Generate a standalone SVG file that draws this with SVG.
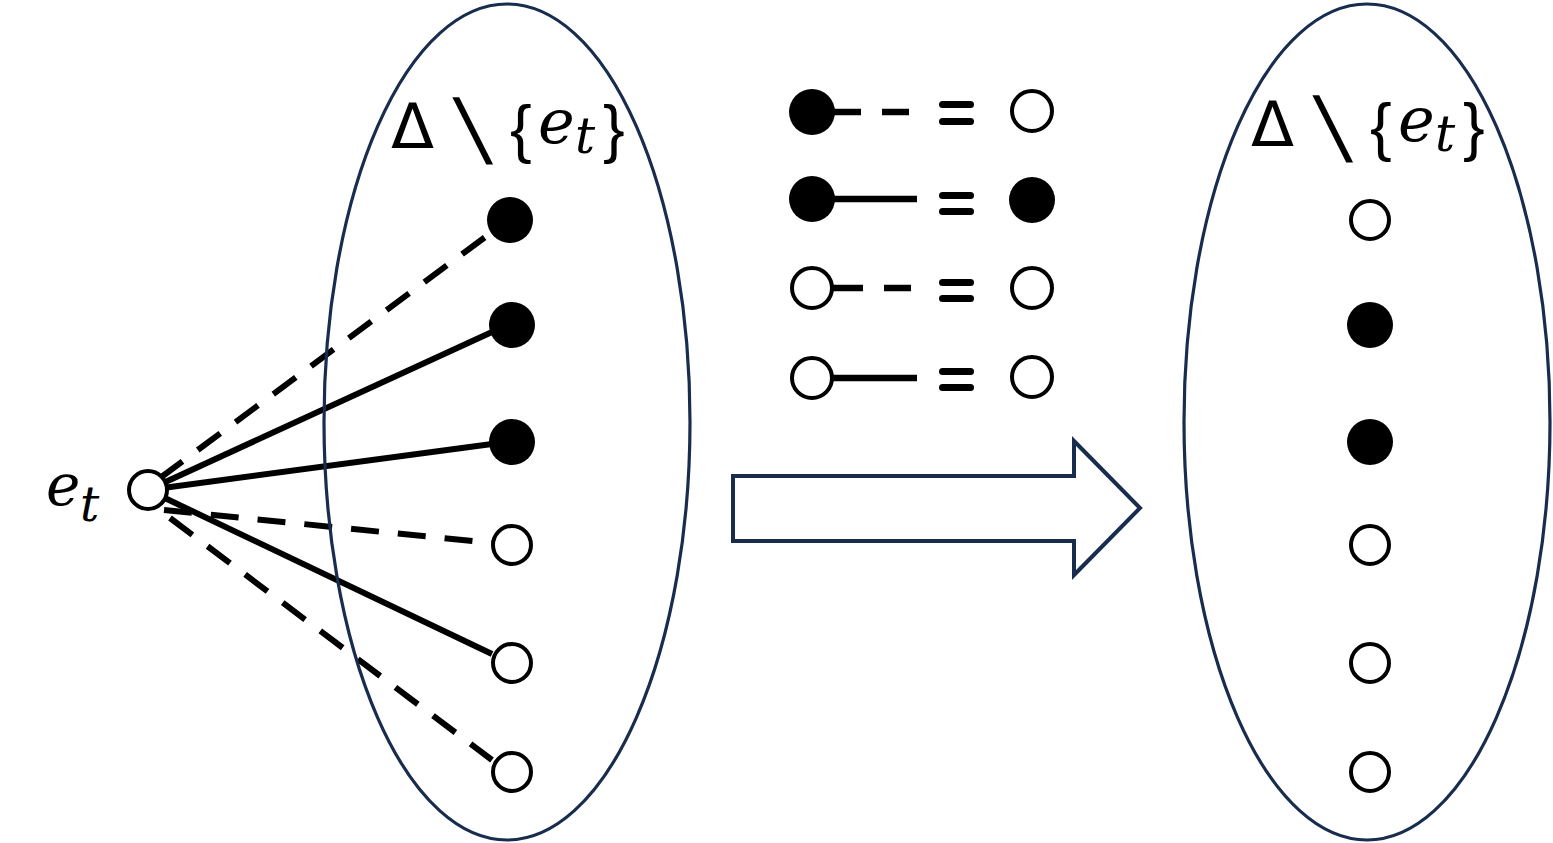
<svg xmlns="http://www.w3.org/2000/svg" width="1553" height="843" viewBox="0 0 1553 843">
<style>
.ell{fill:none;stroke:#182c4e;stroke-width:3.2}
.arrow{fill:#fff;stroke:#182c4e;stroke-width:4}
.ln{stroke:#000;stroke-width:6;fill:none}
.lg{stroke:#000;stroke-width:6.5;fill:none}
.dash{stroke-dasharray:28 19}
.fn{fill:#000}
.hn{fill:#fff;stroke:#000;stroke-width:4}
.eq{fill:#000}
.sym{font-family:"DejaVu Sans",sans-serif;fill:#000}
.br{font-family:"Liberation Sans",Arial,sans-serif;fill:#000}
.mi{font-family:"DejaVu Serif",serif;font-style:italic;fill:#000}
</style>
<rect width="1553" height="843" fill="#fff"/>
<g id="connectors">
<line class="ln dash" x1="160" y1="478" x2="492" y2="232"/>
<line class="ln" x1="148" y1="490" x2="492" y2="332"/>
<line class="ln" x1="148" y1="490" x2="492" y2="444"/>
<line class="ln dash" x1="164" y1="510" x2="492" y2="543"/>
<line class="ln" x1="148" y1="490" x2="492" y2="654"/>
<line class="ln dash" x1="170" y1="518" x2="492" y2="760"/>
</g>
<g id="left-set">
<ellipse class="ell" cx="507" cy="422" rx="183" ry="418"/>
<g id="left-label">
<text class="sym" x="391" y="148" font-size="63">Δ</text>
<text class="sym" transform="translate(464,157) skewX(11)" x="0" y="0" font-size="82">\</text>
<text class="br" x="510" y="151" font-size="65">{</text>
<text class="mi" x="538" y="143" font-size="62">e</text>
<text class="mi" x="575" y="153" font-size="50">t</text>
<text class="br" x="603" y="151" font-size="65">}</text>
</g>
<g id="l1"><circle class="fn" cx="510" cy="220" r="23"/></g>
<g id="l2"><circle class="fn" cx="512" cy="325" r="23"/></g>
<g id="l3"><circle class="fn" cx="512" cy="442" r="23"/></g>
<g id="l4"><circle class="hn" cx="512" cy="545" r="19"/></g>
<g id="l5"><circle class="hn" cx="512" cy="663" r="19"/></g>
<g id="l6"><circle class="hn" cx="512" cy="772" r="19"/></g>
</g>
<g id="et">
<circle class="hn" cx="148" cy="490" r="19"/>
<text class="mi" x="46" y="505" font-size="58">e</text>
<text class="mi" x="80" y="521" font-size="48">t</text>
</g>
<g id="legend">
<g id="row1">
<circle class="fn" cx="812" cy="112" r="23"/>
<line class="lg" x1="830" y1="112" x2="861" y2="112"/>
<line class="lg" x1="882" y1="112" x2="909" y2="112"/>
<rect class="eq" x="939" y="101" width="35" height="7" rx="3.5"/>
<rect class="eq" x="939" y="118" width="35" height="7" rx="3.5"/>
<circle class="hn" cx="1032" cy="111" r="20"/>
</g>
<g id="row2">
<circle class="fn" cx="812" cy="199" r="23"/>
<line class="lg" x1="830" y1="199" x2="917" y2="199"/>
<rect class="eq" x="939" y="192" width="35" height="7" rx="3.5"/>
<rect class="eq" x="939" y="208" width="35" height="7" rx="3.5"/>
<circle class="fn" cx="1032" cy="200" r="23"/>
</g>
<g id="row3">
<circle class="hn" cx="812" cy="288" r="20"/>
<line class="lg" x1="832" y1="288" x2="863" y2="288"/>
<line class="lg" x1="884" y1="288" x2="911" y2="288"/>
<rect class="eq" x="939" y="279" width="35" height="7" rx="3.5"/>
<rect class="eq" x="939" y="295" width="35" height="7" rx="3.5"/>
<circle class="hn" cx="1032" cy="288" r="20"/>
</g>
<g id="row4">
<circle class="hn" cx="812" cy="378" r="20"/>
<line class="lg" x1="832" y1="378" x2="917" y2="378"/>
<rect class="eq" x="939" y="368" width="35" height="7" rx="3.5"/>
<rect class="eq" x="939" y="384" width="35" height="7" rx="3.5"/>
<circle class="hn" cx="1032" cy="377" r="20"/>
</g>
</g>
<g id="big-arrow">
<polygon class="arrow" points="733,476 1074,476 1074,441 1140,508 1074,575 1074,541 733,541"/>
</g>
<g id="right-set">
<ellipse class="ell" cx="1367" cy="422" rx="183" ry="418"/>
<g id="right-label">
<text class="sym" x="1251" y="146" font-size="63">Δ</text>
<text class="sym" transform="translate(1324,155) skewX(11)" x="0" y="0" font-size="82">\</text>
<text class="br" x="1370" y="149" font-size="65">{</text>
<text class="mi" x="1398" y="141" font-size="62">e</text>
<text class="mi" x="1435" y="151" font-size="50">t</text>
<text class="br" x="1463" y="149" font-size="65">}</text>
</g>
<g id="r1"><circle class="hn" cx="1370" cy="220" r="19"/></g>
<g id="r2"><circle class="fn" cx="1370" cy="325" r="23"/></g>
<g id="r3"><circle class="fn" cx="1370" cy="442" r="23"/></g>
<g id="r4"><circle class="hn" cx="1370" cy="545" r="19"/></g>
<g id="r5"><circle class="hn" cx="1370" cy="663" r="19"/></g>
<g id="r6"><circle class="hn" cx="1370" cy="772" r="19"/></g>
</g>
</svg>
